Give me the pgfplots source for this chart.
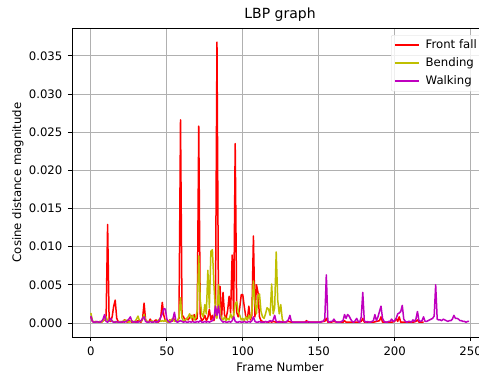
\documentclass[border=0pt]{standalone}
\usepackage{pgfplots}
\pgfplotsset{compat=1.18}
\usepackage{fontspec}
\setmainfont{DejaVu Sans}
\definecolor{mplred}{rgb}{1,0,0}
\definecolor{mply}{rgb}{0.75,0.75,0}
\definecolor{mplm}{rgb}{0.75,0,0.75}
\begin{document}
\begin{tikzpicture}
\begin{axis}[
  name=ax,
  scale only axis,
  width=416pt, height=309pt,
  xmin=-12.45, xmax=261.45,
  ymin=-0.00184, ymax=0.03864,
  xtick={0,50,100,150,200,250},
  ytick={0,0.005,0.01,0.015,0.02,0.025,0.03,0.035},
  scaled y ticks=false,
  yticklabel style={/pgf/number format/fixed,/pgf/number format/precision=3,/pgf/number format/fixed zerofill, xshift=-2pt},
  xticklabel style={yshift=-2pt},
  /pgf/number format/assume math mode=true,
  tick label style={font=\fontsize{11.7}{14}\selectfont},
  tick align=outside,
  major tick length=4.1pt,
  tick style={black, line width=0.9pt},
  xtick pos=bottom, ytick pos=left,
  grid=major,
  major grid style={color=black!31, line width=0.9pt},
  axis line style={black, line width=0.9pt},
  title={LBP graph},
  title style={at={(axis description cs:0.5,1)}, anchor=base, yshift=4pt, inner sep=0pt, font=\fontsize{14}{17}\selectfont},
  xlabel={Frame Number},
  xlabel style={at={(axis description cs:0.5,0)}, anchor=base, yshift=-34pt, inner sep=0pt, font=\fontsize{11.7}{14}\selectfont},
  ylabel={Cosine distance magnitude},
  ylabel style={at={(axis description cs:-0.1298,0.5)}, rotate=0, anchor=center, inner sep=0pt, font=\fontsize{11.7}{14}\selectfont},
  legend style={at={(axis description cs:1,1)}, anchor=north east, xshift=-6pt, yshift=-7pt, draw=black!15, rounded corners=2pt, fill=white, fill opacity=0.8, text opacity=1, font=\fontsize{11.7}{14}\selectfont, inner xsep=3pt, inner ysep=2pt, row sep=2pt, nodes={inner ysep=2pt, text height=9pt, text depth=3pt}},
  legend cell align=left,
  legend image code/.code={\draw[#1] (0pt,0pt) -- (24pt,0pt); \path (28pt,0pt);},
  every axis plot/.append style={line width=1.5pt, line join=round},
]
\addplot[mplred] coordinates {
(0,0.0008)(1,0.0002)(2,0.0001)(3,0.0002)(4,0.0001)(5,0.0001)(6,0.0002)(7,0.0001)(8,0.0003)(9,0.0004)
(10,0.0006)(11,0.0129)(12,0.0003)(13,0.0002)(14,0.0008)(15,0.0022)(16,0.0030)(17,0.0006)(18,0.0002)(19,0.0001)
(20,0.0002)(21,0.0001)(22,0.0004)(23,0.0002)(24,0.0001)(25,0.0003)(26,0.0002)(27,0.0001)(28,0.0002)(29,0.0001)
(30,0.0002)(31,0.0003)(32,0.0002)(33,0.0001)(34,0.0005)(35,0.0026)(36,0.0004)(37,0.0002)(38,0.0001)(39,0.0005)
(40,0.0002)(41,0.0001)(42,0.0003)(43,0.0004)(44,0.0001)(45,0.0002)(46,0.0008)(47,0.0027)(48,0.0010)(49,0.0003)
(50,0.0002)(51,0.0001)(52,0.0004)(53,0.0002)(54,0.0003)(55,0.0005)(56,0.0002)(57,0.0003)(58,0.0006)(59,0.0266)
(60,0.0010)(61,0.0008)(62,0.0003)(63,0.0006)(64,0.0004)(65,0.0007)(66,0.0010)(67,0.0003)(68,0.0011)(69,0.0004)
(70,0.0006)(71,0.0258)(72,0.0009)(73,0.0003)(74,0.0005)(75,0.0010)(76,0.0003)(77,0.0007)(78,0.0018)(79,0.0004)
(80,0.0010)(81,0.0003)(82,0.0012)(83,0.0368)(84,0.0014)(85,0.0048)(86,0.0006)(87,0.0040)(88,0.0010)(89,0.0006)
(90,0.0016)(91,0.0035)(92,0.0013)(93,0.0089)(94,0.0006)(95,0.0235)(96,0.0014)(97,0.0008)(98,0.0020)(99,0.0037)
(100,0.0037)(101,0.0021)(102,0.0008)(103,0.0004)(104,0.0022)(105,0.0004)(106,0.0010)(107,0.0114)(108,0.0008)(109,0.0050)
(110,0.0040)(111,0.0008)(112,0.0003)(113,0.0002)(114,0.0001)(115,0.0002)(116,0.0001)(117,0.0001)(118,0.0002)(119,0.0001)
(120,0.0002)(122,0.0001)(124,0.0002)(126,0.0001)(128,0.0001)(130,0.0002)(132,0.0001)(134,0.0001)(136,0.0001)(138,0.0001)
(140,0.0001)(141,0.0001)(142,0.0003)(143,0.0001)(145,0.0001)(147,0.0001)(149,0.0001)(151,0.0001)(153,0.0002)(154,0.0002)
(155,0.0006)(156,0.0001)(158,0.0001)(160,0.0002)(162,0.0001)(164,0.0001)(166,0.0001)(167,0.0003)(168,0.0001)(170,0.0001)
(172,0.0001)(174,0.0001)(176,0.0001)(178,0.0002)(179,0.0006)(180,0.0001)(182,0.0001)(184,0.0001)(186,0.0001)(188,0.0002)
(190,0.0003)(191,0.0008)(192,0.0001)(194,0.0001)(196,0.0001)(198,0.0001)(200,0.0002)(201,0.0006)(202,0.0002)(203,0.0008)
(204,0.0001)(206,0.0001)(208,0.0001)(210,0.0001)(212,0.0001)(214,0.0002)(215,0.0004)(216,0.0001)(218,0.0001)(219,0.0001)
};
\addlegendentry{Front fall}
\addplot[mply] coordinates {
(0,0.0013)(1,0.0003)(2,0.0001)(3,0.0002)(4,0.0001)(5,0.0001)(6,0.0002)(7,0.0001)(8,0.0003)(9,0.0005)
(10,0.0008)(11,0.0003)(12,0.0002)(13,0.0004)(14,0.0003)(15,0.0001)(16,0.0002)(17,0.0001)(18,0.0001)(19,0.0002)
(20,0.0001)(21,0.0002)(22,0.0003)(23,0.0004)(24,0.0002)(25,0.0001)(26,0.0002)(27,0.0003)(28,0.0001)(29,0.0002)
(30,0.0005)(31,0.0009)(32,0.0003)(33,0.0002)(34,0.0005)(35,0.0011)(36,0.0004)(37,0.0002)(38,0.0001)(39,0.0002)
(40,0.0003)(41,0.0001)(42,0.0002)(43,0.0001)(44,0.0003)(45,0.0005)(46,0.0002)(47,0.0003)(48,0.0002)(49,0.0004)
(50,0.0002)(51,0.0001)(52,0.0003)(53,0.0004)(54,0.0006)(55,0.0002)(56,0.0003)(57,0.0002)(58,0.0008)(59,0.0033)
(60,0.0006)(61,0.0002)(62,0.0004)(63,0.0005)(64,0.0008)(65,0.0012)(66,0.0006)(67,0.0010)(68,0.0004)(69,0.0007)
(70,0.0016)(71,0.0088)(72,0.0030)(73,0.0012)(74,0.0008)(75,0.0024)(76,0.0012)(77,0.0069)(78,0.0020)(79,0.0094)
(80,0.0096)(81,0.0050)(82,0.0015)(83,0.0006)(84,0.0050)(85,0.0012)(86,0.0006)(87,0.0004)(88,0.0008)(89,0.0003)
(90,0.0006)(91,0.0004)(92,0.0012)(93,0.0006)(94,0.0010)(95,0.0025)(96,0.0028)(97,0.0015)(98,0.0010)(99,0.0004)
(100,0.0006)(101,0.0003)(102,0.0008)(103,0.0004)(104,0.0010)(105,0.0006)(106,0.0015)(107,0.0055)(108,0.0026)(109,0.0012)
(110,0.0035)(111,0.0038)(112,0.0015)(113,0.0008)(114,0.0006)(115,0.0012)(116,0.0020)(117,0.0018)(118,0.0010)(119,0.0051)
(120,0.0012)(121,0.0020)(122,0.0093)(123,0.0030)(124,0.0012)(125,0.0024)(126,0.0005)(127,0.0001)
};
\addlegendentry{Bending}
\addplot[mplm] coordinates {
(0,0.0009)(1,0.0002)(2,0.0001)(3,0.0001)(4,0.0002)(5,0.0001)(6,0.0001)(7,0.0002)(8,0.0005)(9,0.0011)
(10,0.0002)(11,0.0001)(12,0.0003)(13,0.0006)(14,0.0002)(15,0.0001)(16,0.0001)(17,0.0002)(18,0.0001)(19,0.0001)
(20,0.0001)(21,0.0002)(22,0.0001)(23,0.0002)(24,0.0003)(25,0.0005)(26,0.0008)(27,0.0002)(28,0.0001)(29,0.0002)
(30,0.0001)(31,0.0001)(32,0.0002)(33,0.0003)(34,0.0006)(35,0.0008)(36,0.0002)(37,0.0001)(38,0.0001)(39,0.0002)
(40,0.0001)(41,0.0001)(42,0.0002)(43,0.0001)(44,0.0002)(45,0.0003)(46,0.0008)(47,0.0012)(48,0.0019)(49,0.0018)
(50,0.0005)(51,0.0002)(52,0.0001)(53,0.0002)(54,0.0005)(55,0.0014)(56,0.0002)(57,0.0001)(58,0.0002)(59,0.0003)
(60,0.0002)(61,0.0001)(62,0.0002)(63,0.0001)(64,0.0001)(65,0.0002)(66,0.0001)(67,0.0002)(68,0.0001)(69,0.0001)
(70,0.0002)(71,0.0001)(72,0.0003)(73,0.0001)(74,0.0001)(75,0.0002)(76,0.0001)(77,0.0002)(78,0.0001)(79,0.0002)
(80,0.0003)(81,0.0006)(82,0.0022)(83,0.0010)(84,0.0022)(85,0.0006)(86,0.0003)(87,0.0001)(88,0.0002)(89,0.0001)
(90,0.0001)(91,0.0002)(92,0.0001)(93,0.0003)(94,0.0008)(95,0.0002)(96,0.0001)(97,0.0001)(98,0.0002)(99,0.0001)
(100,0.0001)(101,0.0002)(102,0.0001)(103,0.0001)(104,0.0002)(105,0.0001)(106,0.0003)(107,0.0008)(108,0.0002)(109,0.0001)
(110,0.0001)(111,0.0002)(112,0.0001)(113,0.0001)(114,0.0001)(115,0.0002)(116,0.0001)(117,0.0002)(118,0.0003)(119,0.0002)
(120,0.0004)(121,0.0010)(122,0.0002)(123,0.0001)(124,0.0001)(125,0.0001)(126,0.0002)(127,0.0001)(128,0.0001)(129,0.0002)
(130,0.0004)(131,0.0010)(132,0.0002)(133,0.0001)(134,0.0001)(135,0.0001)(136,0.0001)(137,0.0001)(138,0.0001)(139,0.0001)
(140,0.0001)(141,0.0001)(142,0.0001)(143,0.0002)(144,0.0001)(145,0.0001)(146,0.0001)(147,0.0001)(148,0.0001)(149,0.0001)
(150,0.0001)(151,0.0001)(152,0.0002)(153,0.0002)(154,0.0006)(155,0.0063)(156,0.0003)(157,0.0001)(158,0.0002)(159,0.0002)
(160,0.0005)(161,0.0002)(162,0.0001)(163,0.0001)(164,0.0001)(165,0.0002)(166,0.0003)(167,0.0011)(168,0.0006)(169,0.0011)
(170,0.0009)(171,0.0005)(172,0.0002)(173,0.0001)(174,0.0003)(175,0.0006)(176,0.0002)(177,0.0001)(178,0.0008)(179,0.0040)
(180,0.0003)(181,0.0001)(182,0.0002)(183,0.0001)(184,0.0001)(185,0.0002)(186,0.0003)(187,0.0011)(188,0.0003)(189,0.0008)
(190,0.0015)(191,0.0022)(192,0.0006)(193,0.0002)(194,0.0001)(195,0.0001)(196,0.0002)(197,0.0002)(198,0.0005)(199,0.0002)
(200,0.0003)(201,0.0006)(202,0.0012)(203,0.0013)(204,0.0015)(205,0.0023)(206,0.0005)(207,0.0002)(208,0.0001)(209,0.0002)
(210,0.0002)(211,0.0001)(212,0.0004)(213,0.0002)(214,0.0005)(215,0.0015)(216,0.0003)(217,0.0002)(218,0.0003)(219,0.0008)
(220,0.0002)(221,0.0002)(222,0.0003)(223,0.0004)(224,0.0005)(225,0.0006)(226,0.0009)(227,0.0050)(228,0.0005)(229,0.0004)
(230,0.0004)(231,0.0003)(232,0.0005)(233,0.0004)(234,0.0003)(235,0.0002)(236,0.0003)(237,0.0003)(238,0.0005)(239,0.0010)
(240,0.0006)(241,0.0006)(242,0.0005)(243,0.0003)(244,0.0003)(245,0.0002)(246,0.0002)(247,0.0001)(248,0.0002)(249,0.0002)
};
\addlegendentry{Walking}
\end{axis}
\pgfresetboundingbox
\path[use as bounding box] (ax.south west) ++(-72pt,-36pt) rectangle ++(479pt,373pt);
\end{tikzpicture}
\end{document}
